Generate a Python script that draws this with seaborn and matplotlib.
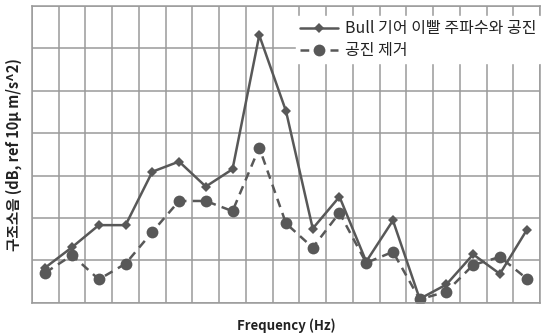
import matplotlib
matplotlib.use("Agg")
import matplotlib.pyplot as plt
import seaborn as sns
import numpy as np
import pandas as pd

# Data (relative levels, 1 unit = 1 grid division)
freq_index = list(range(19))
resonance = [0.83, 1.31, 1.83, 1.83, 3.09, 3.33, 2.74, 3.15, 6.31, 4.52,
             1.75, 2.50, 0.97, 1.94, 0.09, 0.43, 1.14, 0.68, 1.71]
removed = [0.71, 1.12, 0.55, 0.92, 1.67, 2.40, 2.40, 2.16, 3.66, 1.87,
           1.30, 2.12, 0.94, 1.20, 0.08, 0.26, 0.89, 1.08, 0.57]
label_res = "Bull 기어 이빨 주파수와 공진"
label_rem = "공진 제거"
xlabel = "Frequency (Hz)"
ylabel = "구조소음 (dB, ref 10μ m/s^2)"

sns.set_theme(style="white")
plt.rcParams['font.family'] = ['Noto Sans CJK KR', 'DejaVu Sans']

df = pd.DataFrame({"x": freq_index * 2,
                   "y": resonance + removed,
                   "series": [label_res] * 19 + [label_rem] * 19})

fig = plt.figure(figsize=(5.42, 3.33), dpi=100)
ax = fig.add_axes([32/542, 1 - 302.7/333, (540 - 32)/542, (302.7 - 6)/333])

line_col = "#585858"
sns.lineplot(data=df[df.series == label_res], x="x", y="y", ax=ax, color=line_col,
             marker="D", markersize=5.5, markeredgewidth=0, linewidth=1.8,
             label=label_res)
sns.lineplot(data=df[df.series == label_rem], x="x", y="y", ax=ax, color=line_col,
             marker="o", markersize=8.5, markeredgewidth=0, linewidth=1.8,
             linestyle=(0, (3.5, 2.5)), label=label_rem)

ax.set_xlim(-0.5, 18.5)
ax.set_ylim(0, 7)
ax.set_xticks(np.arange(-0.5, 18.6, 1))
ax.set_yticks(np.arange(0, 7.1, 1))
ax.set_xticklabels([])
ax.set_yticklabels([])
ax.tick_params(length=0)
ax.grid(True, color="#9a9a9a", linewidth=1.1)
ax.set_axisbelow(True)
for s in ax.spines.values():
    s.set_color("#9a9a9a")
    s.set_linewidth(1.1)

ax.set_xlabel(xlabel, fontsize=9.5, fontweight="bold", labelpad=8, color="#222222")
ax.set_ylabel(ylabel, fontsize=10.5, fontweight="bold", labelpad=4, color="#222222")

leg = ax.legend(loc="upper right", bbox_to_anchor=(1.0, 0.965), frameon=True,
                fontsize=11.5, handlelength=2.4, handletextpad=0.4,
                borderpad=0.25, labelspacing=0.3, borderaxespad=0.0,
                fancybox=False)
leg.get_frame().set_facecolor("white")
leg.get_frame().set_edgecolor("white")
leg.get_frame().set_alpha(1.0)
for t in leg.get_texts():
    t.set_color("#222222")

fig.savefig("out.png", dpi=100)
